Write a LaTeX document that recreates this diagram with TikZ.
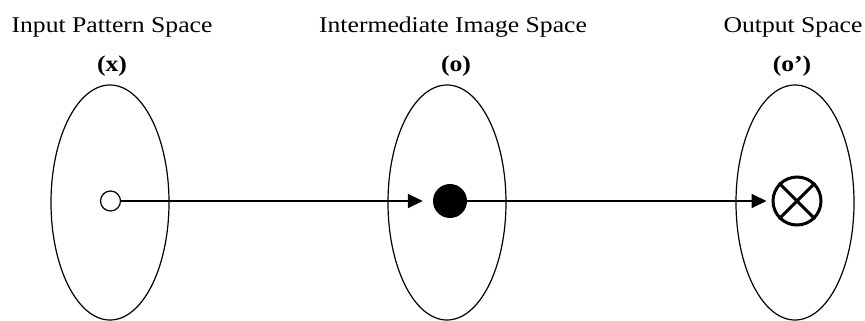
\documentclass[tikz,border=0pt]{standalone}
\usepackage{fontspec}
\setmainfont{Liberation Serif}[FakeStretch=1.14]
\usepackage{tikz}
\usetikzlibrary{
    shapes.geometric,
    arrows.meta,
    positioning
}
\tikzset{
    space/.style={
        ellipse, draw=black, line width=1.2pt, fill=white,
        minimum width=118pt, minimum height=235pt, inner sep=0pt
    },
    stitle/.style={
        anchor=base, inner sep=0pt, text=black,
        font=\fontsize{22.5}{27}\selectfont
    },
    hollowpt/.style={circle, draw=black, line width=1.2pt, fill=white, minimum size=20pt, inner sep=0pt},
    filledpt/.style={circle, fill=black, minimum size=34pt, inner sep=0pt},
    crosspt/.style={circle, draw=black, line width=3pt, minimum size=48pt, inner sep=0pt},
    marr/.style={-{Triangle[length=15pt, width=14pt]}, line width=1.8pt, black},
}

\begin{document}
\begin{tikzpicture}[x=1pt, y=-1pt]
    \useasboundingbox (0,0) rectangle (865,321);

    % three spaces
    \node [space] (inspace)  at (110,202.5) {};
    \node [space] (midspace) at (447,202.5) {};
    \node [space] (outspace) at (795,202.5) {};

    \node [stitle] (intitle)  at (112,33) {Input Pattern Space};
    \node [stitle] (inlabel)  at (112,71) {\textbf{(x)}};
    \node [stitle] (midtitle) at (453,33) {Intermediate Image Space};
    \node [stitle] (midlabel) at (456,71) {\textbf{(o)}};
    \node [stitle] (outtitle) at (793,33) {Output Space};
    \node [stitle] (outlabel) at (792,71) {\textbf{(o’)}};

    % points
    \node [hollowpt] (xpt) at (110.5,201) {};
    \node [filledpt] (opt) at (450,201) {};
    \node [crosspt]  (oprime) at (797,201) {};
    \draw [line width=3pt] (oprime.45) -- (oprime.225);
    \draw [line width=3pt] (oprime.135) -- (oprime.315);

    \draw [marr, shorten >=10pt] (xpt.east) -- (opt.west);
    \draw [marr, shorten >=5pt] (opt.east) -- (oprime.west);

\end{tikzpicture}
\end{document}
